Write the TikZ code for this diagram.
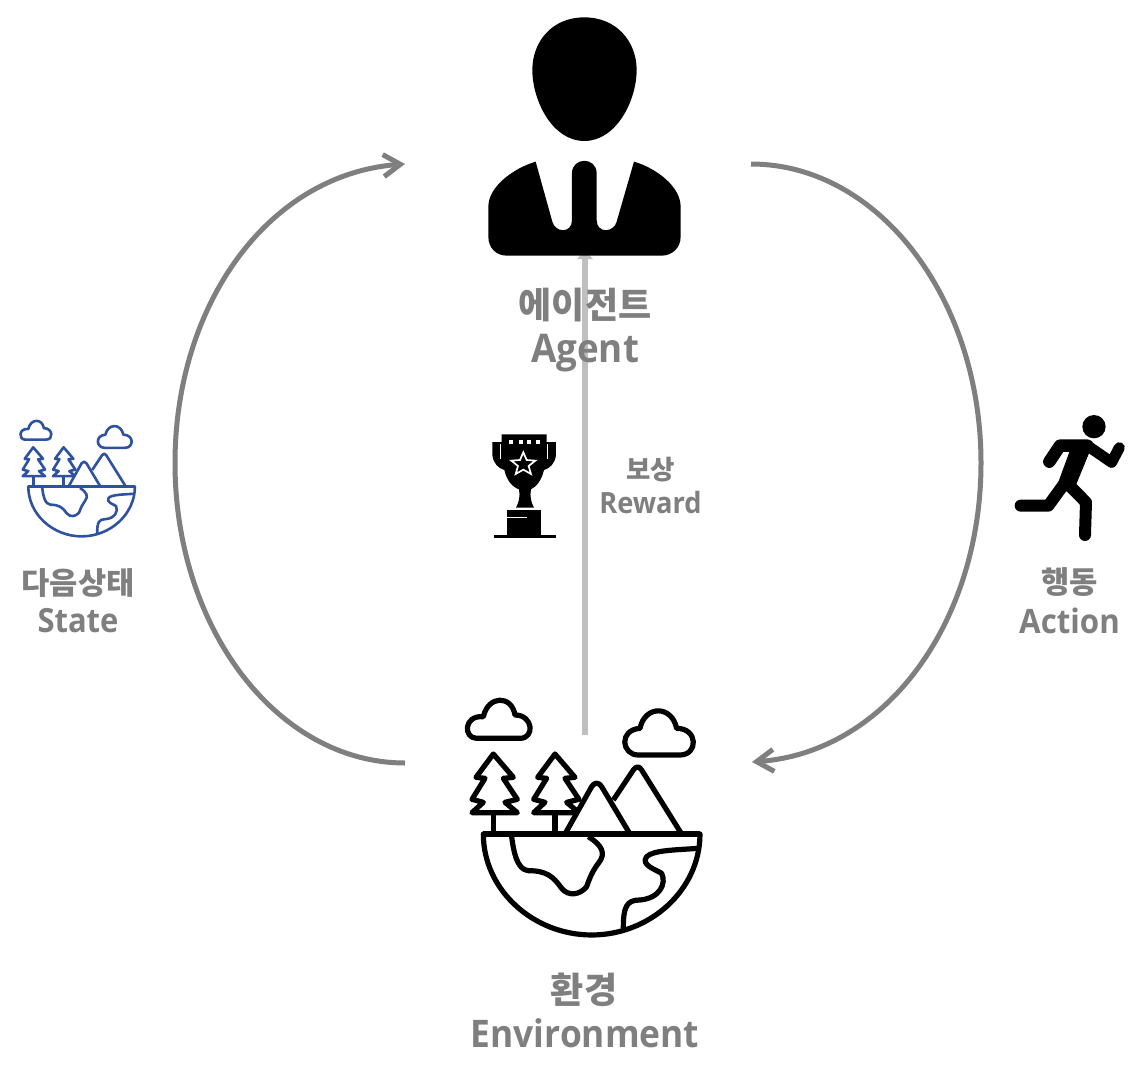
\documentclass[tikz,border=0pt]{standalone}
\usepackage{fontspec}
\setmainfont[FakeStretch=0.93]{Open Sans}
\newfontfamily\krfont{Noto Sans CJK KR}
\usetikzlibrary{arrows.meta}
\definecolor{labelgray}{HTML}{7F7F7F}
\definecolor{loopgray}{HTML}{7F7F7F}
\definecolor{rewardgray}{HTML}{BFBFBF}
\definecolor{stateblue}{HTML}{2F52A0}
\newcommand{\lab}[2]{\fontsize{#1}{#1}\selectfont\bfseries #2}
\newcommand{\kor}[2]{\krfont\fontsize{#1}{#1}\selectfont\bfseries #2}
\newcommand{\envicon}{%
  \path[ic,fill=white] (100,462) .. controls (100,630) and (250,765) .. (425,765) .. controls (600,765) and (750,630) .. (750,462) -- cycle;
  \path[ic] (80,175) -- (210,175) .. controls (255,175) and (250,105) .. (195,105) .. controls (185,45) and (115,45) .. (100,110) .. controls (40,105) and (40,175) .. (80,175) -- cycle;
  \path[ic] (565,225) -- (690,225) .. controls (745,225) and (745,145) .. (680,145) .. controls (665,75) and (585,75) .. (570,145) .. controls (505,150) and (515,225) .. (565,225) -- cycle;
  \foreach \tx in {0,185} {
    \path[ic] (130+\tx,222) -- (190+\tx,292) -- (160+\tx,295) -- (202+\tx,358) -- (165+\tx,367) -- (202+\tx,398) -- (66+\tx,398) -- (100+\tx,367) -- (66+\tx,358) -- (105+\tx,295) -- (78+\tx,292) -- cycle;
    \path[ic] (130+\tx,398) -- (130+\tx,462);
  }
  \path[ic,line join=round] (490,360) -- (550,270) .. controls (558,258) and (568,258) .. (575,270) -- (695,462);
  \path[ic,fill=white] (345,462) -- (425,320) .. controls (433,306) and (447,306) .. (455,320) -- (540,462);
  \path[ic] (185,470) .. controls (190,510) and (200,570) .. (235,572) .. controls (290,572) and (310,590) .. (335,625) .. controls (355,650) and (390,645) .. (410,620) .. controls (420,590) and (430,570) .. (445,550) .. controls (470,520) and (455,495) .. (415,470);
  \path[ic] (745,505) .. controls (680,510) and (610,510) .. (590,530) .. controls (570,555) and (620,570) .. (635,580) .. controls (650,610) and (630,655) .. (570,660) .. controls (530,660) and (520,680) .. (520,745);
  \draw[ic,line cap=square] (100,462) -- (750,462);
}
\tikzset{
  loop/.style={draw=loopgray,line width=5pt},
  looparrow/.style={loop,-{Straight Barb[length=17pt,width=22pt,line width=5pt]}},
  rewardline/.style={draw=rewardgray,line width=5.5pt,-{Triangle[length=9pt,width=15pt]}},
  word/.style={text=labelgray,inner sep=0pt,anchor=center},
}
\begin{document}
\begin{tikzpicture}[x=1pt,y=-1pt]
\useasboundingbox[fill=white] (0,0) rectangle (1141,1077);

\coordinate (agentIn) at (405,164);
\coordinate (agentOut) at (751,164);
\coordinate (envIn) at (752,762);
\coordinate (envOut) at (405,763);
\coordinate (rewardFrom) at (585,735);
\coordinate (rewardTo) at (585,250);

\draw[looparrow] (envOut) .. controls (278,763) and (175,629) .. (175,463) .. controls (175,305) and (268,174) .. (agentIn);
\draw[looparrow] (agentOut) .. controls (878,164) and (981,298) .. (981,463) .. controls (981,620) and (888,752) .. (envIn);
\draw[rewardline] (rewardFrom) -- (rewardTo);

% agent icon
\begin{scope}[shift={(470,10)},x=0.3333pt,y=-0.3333pt]
  \fill[black] (343,22) .. controls (440,22) and (500,95) .. (500,180) .. controls (500,270) and (440,393) .. (343,393) .. controls (246,393) and (187,270) .. (187,180) .. controls (187,95) and (246,22) .. (343,22) -- cycle;
  \fill[black] (197,455) -- (247,635) .. controls (255,668) and (306,672) .. (306,630) -- (306,490) .. controls (306,440) and (380,440) .. (380,490) -- (380,630) .. controls (380,672) and (432,668) .. (440,635) -- (492,455) .. controls (560,475) and (632,530) .. (632,590) -- (632,680) .. controls (632,715) and (605,737) .. (575,737) -- (110,737) .. controls (80,737) and (55,715) .. (55,680) -- (55,590) .. controls (55,530) and (130,475) .. (197,455) -- cycle;
\end{scope}

% trophy icon
\begin{scope}[shift={(470,420)},x=0.3333pt,y=-0.3333pt]
  \fill[black] (73,346) rectangle (257,354);
  \fill[black] (110,270) rectangle (213,345);
  \draw[white,line width=1.3pt] (110,292) -- (170,292);
  \fill[black] (95,43) -- (230,43) -- (230,66) -- (258,66) -- (258,105) .. controls (255,130) and (240,145) .. (222,150) .. controls (215,180) and (200,200) .. (183,208) .. controls (178,230) and (185,250) .. (192,263) -- (138,263) .. controls (145,250) and (152,230) .. (147,208) .. controls (125,200) and (110,180) .. (103,150) .. controls (85,145) and (70,130) .. (67,105) -- (67,66) -- (95,66) -- cycle;
  \draw[white,line width=1pt] (92,72) -- (92,118);
  \draw[white,line width=1pt] (233,72) -- (233,118);
  \foreach \dx in {118,146,172,198} \fill[white] (\dx,61) rectangle (\dx+12,71);
  \draw[white,line width=1.7pt,line join=miter] (160,97) -- (170,120) -- (196,122) -- (176,138) -- (183,162) -- (160,149) -- (137,162) -- (144,138) -- (124,122) -- (150,120) -- cycle;
\end{scope}

% runner icon
\begin{scope}[shift={(1000,405)},x=0.3333pt,y=-0.3333pt]
  \fill[black] (282,65) circle[radius=35];
  \draw[black,line width=12.5pt,line cap=round,line join=round] (148,170) -- (180,122) -- (262,122);
  \draw[black,line width=11pt,line cap=round,line join=round] (262,122) -- (335,172) -- (358,128);
  \fill[black] (212,130) -- (278,118) -- (228,240) -- (195,262) -- (150,300) -- cycle;
  \draw[black,line width=12pt,line cap=round,line join=round] (212,245) -- (258,292) -- (255,390);
  \draw[black,line width=12pt,line cap=round,line join=round] (190,240) -- (145,302) -- (62,302);
\end{scope}

% environment icon
\begin{scope}[shift={(450,680)},x=0.3333pt,y=-0.3333pt,ic/.style={draw=black,line width=5.2pt,line join=round}]
  \envicon
\end{scope}

% state icon
\begin{scope}[shift={(11.9,410.9)},x=0.164pt,y=-0.164pt,ic/.style={draw=stateblue,line width=2.6pt,line join=round}]
  \envicon
\end{scope}

% labels
\node[word] (agentKo) at (585,305.5) {\kor{36}{에이전트}};
\node[word] (agentEn) at (585,353) {\lab{39.5}{Agent}};
\node[word] (rewardKo) at (650.5,470) {\kor{26.5}{보상}};
\node[word] (rewardEn) at (650.5,503) {\lab{29.3}{Reward}};
\node[word] (stateKo) at (78,583) {\kor{30.7}{다음상태}};
\node[word] (stateEn) at (78,621) {\lab{33.3}{State}};
\node[word] (actionKo) at (1069.5,582) {\kor{30.7}{행동}};
\node[word] (actionEn) at (1069.5,621) {\lab{33.6}{Action}};
\node[word] (envKo) at (584,989.5) {\kor{36}{환경}};
\node[word] (envEn) at (585,1033) {\lab{38}{Environment}};
\end{tikzpicture}
\end{document}
